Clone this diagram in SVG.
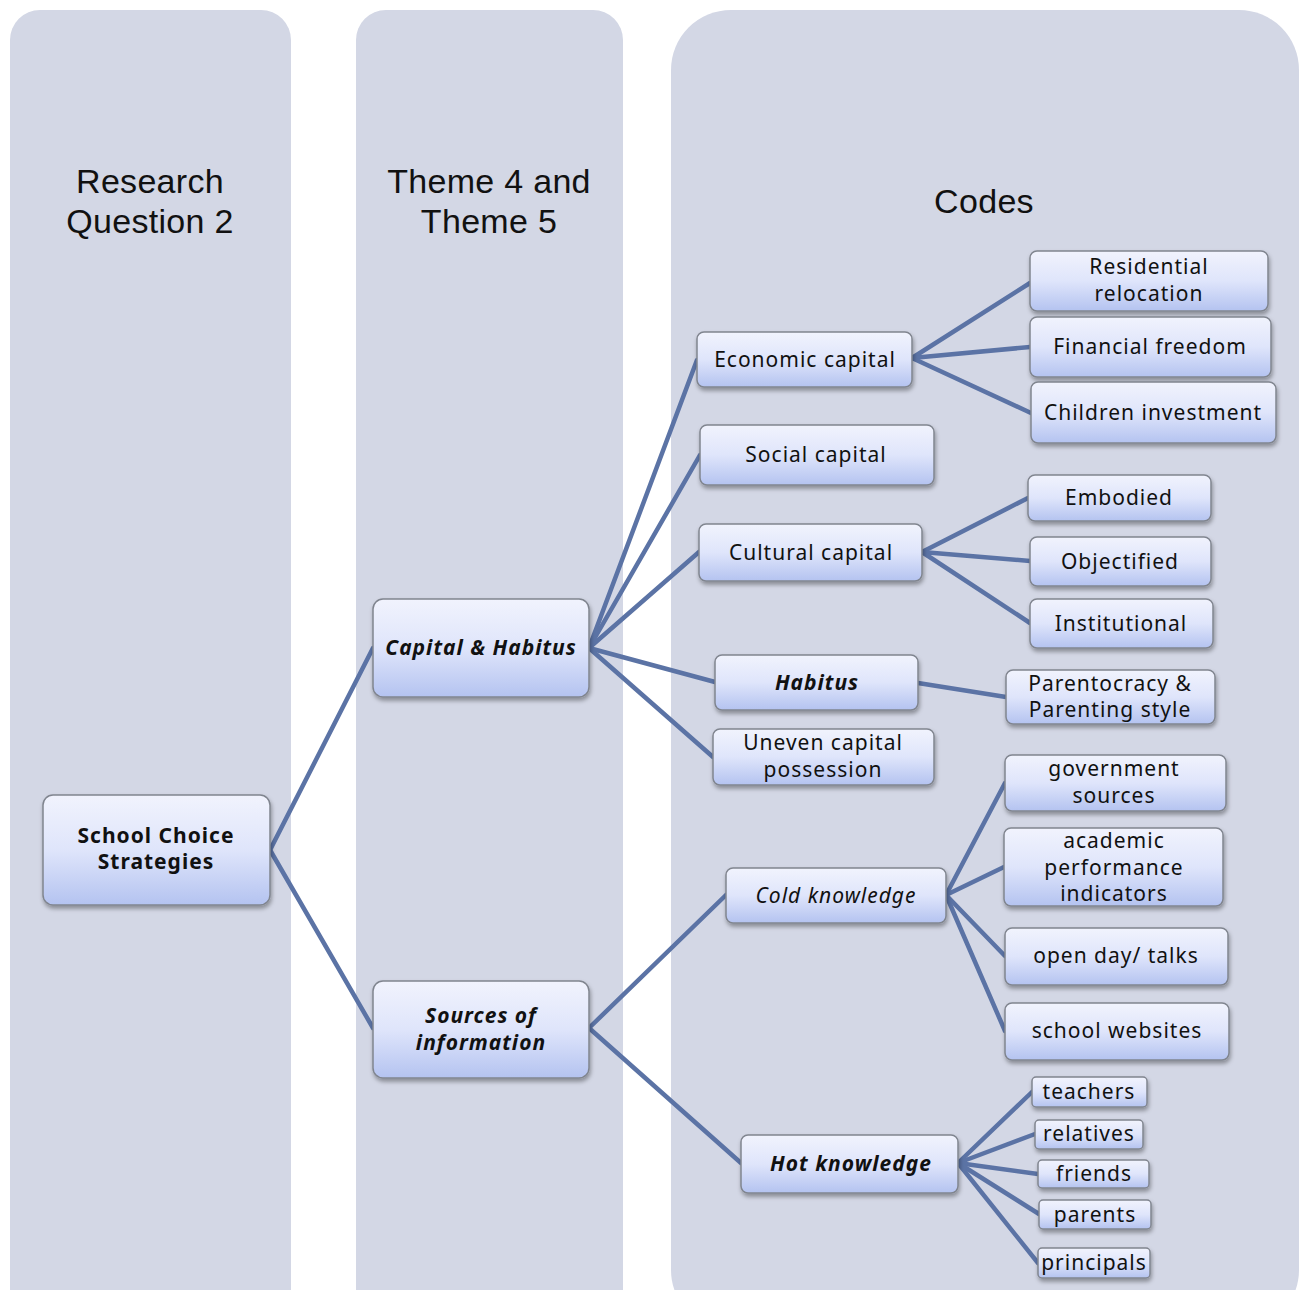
<svg xmlns="http://www.w3.org/2000/svg" width="1301" height="1290" viewBox="0 0 1301 1290">
<defs>
<linearGradient id="ng" x1="0" y1="0" x2="0" y2="1">
<stop offset="0" stop-color="#f1f3fd"/>
<stop offset="0.5" stop-color="#dfe5fb"/>
<stop offset="1" stop-color="#b4c3f0"/>
</linearGradient>
<filter id="sh" x="-10%" y="-10%" width="120%" height="140%">
<feDropShadow dx="1" dy="3" stdDeviation="2" flood-color="#000" flood-opacity="0.35"/>
</filter>
</defs>
<style>
.col{fill:#d3d7e5}
.hdr{font-family:"Liberation Sans",Arial,sans-serif;font-size:34px;fill:#111;text-anchor:middle;letter-spacing:0.3px}
.nd rect{fill:url(#ng);stroke:#80858f;stroke-width:1.5;filter:url(#sh)}
.nd text{font-family:"Noto Sans","Open Sans",sans-serif;font-size:21px;fill:#111;text-anchor:middle;letter-spacing:1px}
.b text{font-weight:bold}
.bi text{font-weight:bold;font-style:italic}
.it text{font-style:italic}
#connectors line{stroke:#5b73a5;stroke-width:4.5;stroke-linecap:round}
</style>
<rect width="1301" height="1290" fill="#ffffff"/>
<g id="columns">
<rect class="col" x="10" y="10" width="281" height="1320" rx="30"/>
<rect class="col" x="356" y="10" width="267" height="1320" rx="30"/>
<rect class="col" x="671" y="10" width="628" height="1320" rx="60"/>
<text class="hdr" x="150" y="193">Research<tspan x="150" y="233">Question 2</tspan></text>
<text class="hdr" x="489" y="193">Theme 4 and<tspan x="489" y="233">Theme 5</tspan></text>
<text class="hdr" x="984" y="213">Codes</text>
</g>
<g id="connectors">
<line x1="270" y1="850" x2="373" y2="648"/>
<line x1="270" y1="850" x2="373" y2="1028"/>
<line x1="589" y1="648" x2="697" y2="360"/>
<line x1="589" y1="648" x2="700" y2="455"/>
<line x1="589" y1="648" x2="699" y2="552"/>
<line x1="589" y1="648" x2="715" y2="682"/>
<line x1="589" y1="648" x2="713" y2="757"/>
<line x1="912" y1="358" x2="1030" y2="283"/>
<line x1="912" y1="358" x2="1030" y2="347"/>
<line x1="912" y1="358" x2="1031" y2="413"/>
<line x1="922" y1="552" x2="1028" y2="498"/>
<line x1="922" y1="552" x2="1030" y2="561"/>
<line x1="922" y1="552" x2="1030" y2="623"/>
<line x1="918" y1="683" x2="1006" y2="697"/>
<line x1="589" y1="1028" x2="726" y2="895"/>
<line x1="589" y1="1028" x2="741" y2="1163"/>
<line x1="946" y1="895" x2="1005" y2="783"/>
<line x1="946" y1="895" x2="1004" y2="867"/>
<line x1="946" y1="895" x2="1005" y2="956"/>
<line x1="946" y1="895" x2="1005" y2="1031"/>
<line x1="958" y1="1163" x2="1032" y2="1092"/>
<line x1="958" y1="1163" x2="1035" y2="1134"/>
<line x1="958" y1="1163" x2="1038" y2="1174"/>
<line x1="958" y1="1163" x2="1039" y2="1214"/>
<line x1="958" y1="1163" x2="1038" y2="1263"/>
</g>
<g id="n-school" class="nd b"><rect x="43" y="795" width="227" height="110" rx="10"/><text x="156" y="843">School Choice<tspan x="156" y="869">Strategies</tspan></text></g>
<g id="n-capital" class="nd bi"><rect x="373" y="599" width="216" height="98" rx="10"/><text x="481" y="655">Capital &amp; Habitus</text></g>
<g id="n-sources" class="nd bi"><rect x="373" y="981" width="216" height="97" rx="10"/><text x="481" y="1023">Sources of<tspan x="481" y="1050">information</tspan></text></g>
<g id="n-economic" class="nd"><rect x="697" y="332" width="215" height="55" rx="7"/><text x="805" y="367">Economic capital</text></g>
<g id="n-social" class="nd"><rect x="700" y="425" width="234" height="60" rx="7"/><text x="816" y="462">Social capital</text></g>
<g id="n-cultural" class="nd"><rect x="699" y="524" width="223" height="57" rx="7"/><text x="811" y="560">Cultural capital</text></g>
<g id="n-habitus" class="nd bi"><rect x="715" y="655" width="203" height="55" rx="7"/><text x="817" y="690">Habitus</text></g>
<g id="n-uneven" class="nd"><rect x="713" y="729" width="221" height="56" rx="7"/><text x="823" y="750">Uneven capital<tspan x="823" y="777">possession</tspan></text></g>
<g id="n-cold" class="nd it"><rect x="726" y="868" width="220" height="55" rx="7"/><text x="836" y="903">Cold knowledge</text></g>
<g id="n-hot" class="nd bi"><rect x="741" y="1135" width="217" height="58" rx="7"/><text x="851" y="1171">Hot knowledge</text></g>
<g id="n-residential" class="nd"><rect x="1030" y="251" width="238" height="60" rx="7"/><text x="1149" y="274">Residential<tspan x="1149" y="301">relocation</tspan></text></g>
<g id="n-financial" class="nd"><rect x="1030" y="317" width="241" height="60" rx="7"/><text x="1150" y="354">Financial freedom</text></g>
<g id="n-children" class="nd"><rect x="1031" y="382" width="245" height="61" rx="7"/><text x="1153" y="420">Children investment</text></g>
<g id="n-embodied" class="nd"><rect x="1028" y="475" width="183" height="46" rx="7"/><text x="1119" y="505">Embodied</text></g>
<g id="n-objectified" class="nd"><rect x="1030" y="537" width="181" height="49" rx="7"/><text x="1120" y="569">Objectified</text></g>
<g id="n-institutional" class="nd"><rect x="1030" y="599" width="183" height="49" rx="7"/><text x="1121" y="631">Institutional</text></g>
<g id="n-parentocracy" class="nd"><rect x="1006" y="670" width="209" height="54" rx="7"/><text x="1110" y="691">Parentocracy &amp;<tspan x="1110" y="717">Parenting style</tspan></text></g>
<g id="n-government" class="nd"><rect x="1005" y="755" width="221" height="56" rx="7"/><text x="1114" y="776">government<tspan x="1114" y="803">sources</tspan></text></g>
<g id="n-academic" class="nd"><rect x="1004" y="828" width="219" height="78" rx="7"/><text x="1114" y="848">academic<tspan x="1114" y="875">performance</tspan><tspan x="1114" y="901">indicators</tspan></text></g>
<g id="n-openday" class="nd"><rect x="1005" y="928" width="223" height="57" rx="7"/><text x="1116" y="963">open day/ talks</text></g>
<g id="n-websites" class="nd"><rect x="1005" y="1003" width="224" height="57" rx="7"/><text x="1117" y="1038">school websites</text></g>
<g id="n-teachers" class="nd"><rect x="1032" y="1077" width="115" height="30" rx="4"/><text x="1089" y="1099">teachers</text></g>
<g id="n-relatives" class="nd"><rect x="1035" y="1120" width="108" height="29" rx="4"/><text x="1089" y="1141">relatives</text></g>
<g id="n-friends" class="nd"><rect x="1038" y="1160" width="111" height="28" rx="4"/><text x="1094" y="1181">friends</text></g>
<g id="n-parents" class="nd"><rect x="1039" y="1200" width="112" height="29" rx="4"/><text x="1095" y="1222">parents</text></g>
<g id="n-principals" class="nd"><rect x="1038" y="1248" width="112" height="30" rx="4"/><text x="1094" y="1270">principals</text></g>
</svg>
